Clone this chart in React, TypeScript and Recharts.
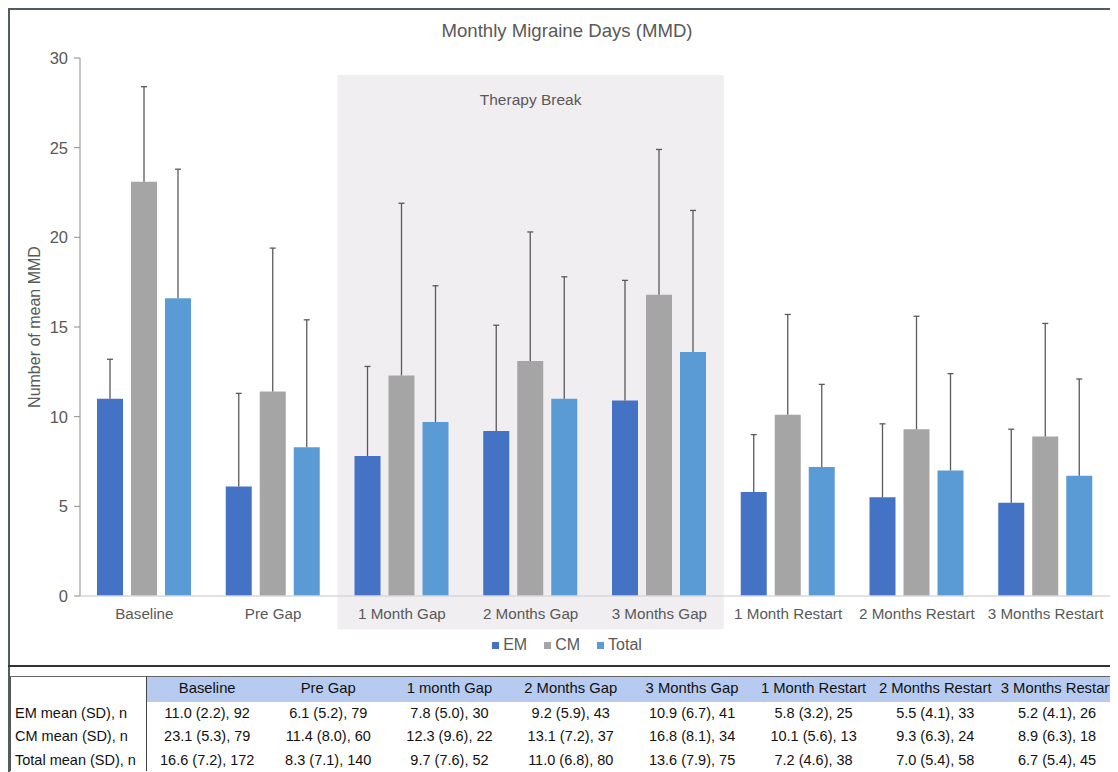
import { Bar, BarChart, ErrorBar, Legend, ReferenceArea, XAxis, YAxis } from 'recharts';

const FONT = '"Liberation Sans", Arial, Helvetica, sans-serif';
const TEXT = '#595959';

const categories = [
  'Baseline',
  'Pre Gap',
  '1 Month Gap',
  '2 Months Gap',
  '3 Months Gap',
  '1 Month Restart',
  '2 Months Restart',
  '3 Months Restart',
];
const tableHeaders = [
  'Baseline',
  'Pre Gap',
  '1 month Gap',
  '2 Months Gap',
  '3 Months Gap',
  '1 Month Restart',
  '2 Months Restart',
  '3 Months Restart',
];

const emMean = [11.0, 6.1, 7.8, 9.2, 10.9, 5.8, 5.5, 5.2];
const emSd = [2.2, 5.2, 5.0, 5.9, 6.7, 3.2, 4.1, 4.1];
const emN = [92, 79, 30, 43, 41, 25, 33, 26];

const cmMean = [23.1, 11.4, 12.3, 13.1, 16.8, 10.1, 9.3, 8.9];
const cmSd = [5.3, 8.0, 9.6, 7.2, 8.1, 5.6, 6.3, 6.3];
const cmN = [79, 60, 22, 37, 34, 13, 24, 18];

const totalMean = [16.6, 8.3, 9.7, 11.0, 13.6, 7.2, 7.0, 6.7];
const totalSd = [7.2, 7.1, 7.6, 6.8, 7.9, 4.6, 5.4, 5.4];
const totalN = [172, 140, 52, 80, 75, 38, 58, 45];

const yTicks = [0, 5, 10, 15, 20, 25, 30];

const series = [
  { key: 'em', err: 'emErr', label: 'EM', color: '#4472C4', mean: emMean, sd: emSd, n: emN },
  { key: 'cm', err: 'cmErr', label: 'CM', color: '#A5A5A5', mean: cmMean, sd: cmSd, n: cmN },
  { key: 'total', err: 'totalErr', label: 'Total', color: '#5B9BD5', mean: totalMean, sd: totalSd, n: totalN },
];

// bars show the mean, whiskers go up by one SD only
const chartData = categories.map((name, i) => {
  const row: Record<string, any> = { name };
  series.forEach((s) => {
    row[s.key] = s.mean[i];
    row[s.err] = [0, s.sd[i]];
  });
  return row;
});

function YLabel(props: any) {
  const { viewBox } = props;
  const cx = viewBox.x + 26;
  const cy = viewBox.y + viewBox.height / 2;
  return (
    <text
      x={cx}
      y={cy}
      transform={`rotate(-90 ${cx} ${cy})`}
      textAnchor="middle"
      dominantBaseline="central"
      fill={TEXT}
      fontSize={16}
      fontFamily={FONT}
    >
      Number of mean MMD
    </text>
  );
}

function LegendContent() {
  return (
    <div style={{ display: 'flex', justifyContent: 'center', alignItems: 'center', height: 20, gap: 17 }}>
      {series.map((s) => (
        <div key={s.key} style={{ display: 'flex', alignItems: 'center' }}>
          <span style={{ width: 7, height: 7, background: s.color, marginRight: 4 }} />
          <span style={{ fontSize: 16, color: TEXT }}>{s.label}</span>
        </div>
      ))}
    </div>
  );
}

const fmt = (v: number) => v.toFixed(1);

export default function App() {
  return (
    <div style={{ position: 'relative', width: 1110, height: 764, overflow: 'hidden', fontFamily: FONT }}>
      {/* only the upper cap of each whisker is wanted */}
      <style>{'.recharts-errorBar line:last-of-type { display: none; }'}</style>
      <div
        style={{
          position: 'absolute',
          left: 0,
          top: 0,
          width: 1200,
          height: 800,
          borderLeft: '2px solid #555b66',
          borderTop: '2px solid #555b66',
        }}
      />
      <div
        style={{
          position: 'absolute',
          left: 0,
          top: 12,
          width: 1118,
          textAlign: 'center',
          fontSize: 18.6,
          lineHeight: '22px',
          color: TEXT,
        }}
      >
        Monthly Migraine Days (MMD)
      </div>
      <div style={{ position: 'absolute', left: 0, top: 0 }}>
        <BarChart
          width={1118}
          height={656}
          data={chartData}
          margin={{ top: 50, right: 16, bottom: 9, left: 0 }}
          barSize={26}
          barGap={8}
        >
          <ReferenceArea
            x1="1 Month Gap"
            x2="3 Months Gap"
            y1={-1.85}
            y2={29.05}
            ifOverflow="visible"
            fill="#f0eef0"
            fillOpacity={1}
            stroke="none"
            label={{ value: 'Therapy Break', position: 'insideTop', offset: 19, fill: TEXT, fontSize: 15.5 }}
          />
          <XAxis
            dataKey="name"
            interval={0}
            height={39}
            tickLine={false}
            tickMargin={6}
            axisLine={{ stroke: '#d9d9d9', strokeWidth: 1.5 }}
            tick={{ fill: TEXT, fontSize: 15.2 }}
          />
          <YAxis
            domain={[0, 30]}
            ticks={yTicks}
            width={72}
            tickSize={6}
            tickMargin={6}
            axisLine={{ stroke: '#8c8c8c' }}
            tickLine={{ stroke: '#8c8c8c' }}
            tick={{ fill: TEXT, fontSize: 16.5 }}
            label={<YLabel />}
          />
          {series.map((s) => (
            <Bar key={s.key} dataKey={s.key} name={s.label} fill={s.color} isAnimationActive={false}>
              <ErrorBar
                dataKey={s.err}
                direction="y"
                width={3}
                stroke="#5a5a5a"
                strokeWidth={1.3}
                isAnimationActive={false}
              />
            </Bar>
          ))}
          <Legend verticalAlign="bottom" wrapperStyle={{ left: 0, width: 1118 }} content={<LegendContent />} />
        </BarChart>
      </div>
      <div style={{ position: 'absolute', left: 0, top: 657, width: 1200, height: 2, background: '#333' }} />
      <table
        style={{
          position: 'absolute',
          left: 2,
          top: 668,
          borderCollapse: 'collapse',
          tableLayout: 'fixed',
          fontSize: 14.5,
          color: '#111',
          borderTop: '1px solid #666',
          borderLeft: '1px solid #555',
        }}
      >
        <colgroup>
          <col style={{ width: 136 }} />
          {tableHeaders.map((h) => (
            <col key={h} style={{ width: 122 }} />
          ))}
        </colgroup>
        <tbody>
          <tr style={{ height: 25 }}>
            <td style={{ borderRight: '1px solid #444', padding: 0 }} />
            {tableHeaders.map((h) => (
              <td
                key={h}
                style={{
                  background: '#b7caef',
                  textAlign: 'center',
                  padding: '0 0 2px 0',
                  fontSize: 14.8,
                  whiteSpace: 'nowrap',
                }}
              >
                {h}
              </td>
            ))}
          </tr>
          {series.map((s) => (
            <tr key={s.key} style={{ height: 23.3 }}>
              <td style={{ borderRight: '1px solid #444', padding: '0 0 0 4px', whiteSpace: 'nowrap' }}>
                {s.label} mean (SD), n
              </td>
              {s.mean.map((m, i) => (
                <td key={i} style={{ textAlign: 'center', padding: 0, whiteSpace: 'nowrap' }}>
                  {fmt(m)} ({fmt(s.sd[i])}), {s.n[i]}
                </td>
              ))}
            </tr>
          ))}
        </tbody>
      </table>
    </div>
  );
}
